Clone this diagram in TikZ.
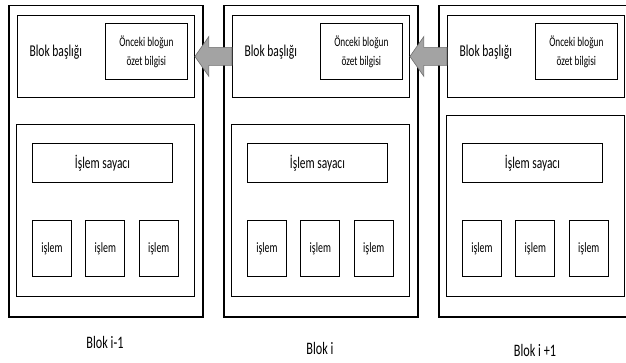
\documentclass[tikz,border=0pt]{standalone}
\usepackage{fontspec}
\setmainfont{Carlito}[FakeStretch=0.70]
\usetikzlibrary{positioning,calc}

\definecolor{arrowfill}{RGB}{163,163,163}
\definecolor{arrowedge}{RGB}{110,110,110}

\tikzset{
  outerbox/.style={draw, line width=1.5pt, inner sep=0pt, minimum width=194pt, minimum height=311pt},
  headbox/.style={draw, line width=0.9pt, inner sep=0pt, minimum width=177pt, minimum height=82pt},
  prevbox/.style={draw, line width=1.1pt, inner sep=0pt, minimum width=82pt, minimum height=56pt,
    align=center, font=\fontsize{13.3}{19}\selectfont},
  bodybox/.style={draw, line width=0.9pt, inner sep=0pt, minimum width=178pt},
  countbox/.style={draw, line width=0.9pt, inner sep=0pt, minimum width=140pt, minimum height=39pt,
    font=\fontsize{16.3}{18}\selectfont},
  txbox/.style={draw, line width=0.9pt, inner sep=0pt, minimum width=39pt, minimum height=56pt,
    font=\fontsize{14.2}{16}\selectfont},
  blockarrow/.style={fill=arrowfill, draw=arrowedge, line width=0.6pt, line join=miter}
}

\begin{document}
\begin{tikzpicture}[x=1pt,y=-1pt]
\useasboundingbox (0,0) rectangle (626,363);

% Draw the three blocks
\foreach \x/\bt/\lab/\ly/\n in {8/125/{Blok i-1}/342/1, 223/125/{Blok i}/348/2, 438/116/{Blok i +1}/350/3} {
  % outer frame
  \node[outerbox, anchor=north west] (o\n) at (\x,5) {};
  % block header with summary of previous block
  \node[headbox, anchor=north west] (h\n) at (\x+9,15) {};
  \node[anchor=west, font=\fontsize{16.5}{18}\selectfont] (ht\n) at ($(h\n.west)+(9,-4)$) {Blok başlığı};
  \node[prevbox, below left=8pt and 7pt of h\n.north east] (p\n) {Önceki bloğun\\özet bilgisi};
  % block body
  \node[bodybox, anchor=south west, minimum height={297pt-\bt pt}] (b\n) at (\x+8,297) {};
  \node[countbox, anchor=north west] (c\n) at (\x+24,143) {İşlem sayacı};
  \node[txbox, anchor=north west] (ta\n) at (\x+24,220) {işlem};
  \node[txbox, right=13.5pt of ta\n] (tb\n) {işlem};
  \node[txbox, right=13.5pt of tb\n] (tc\n) {işlem};
  % label under the block
  \node[font=\fontsize{17.5}{19}\selectfont] (l\n) at (\x+97,\ly) {\lab};
}

% Draw block arrows between headers
\draw[blockarrow] ($(h2.west)+(0,-9)$) -- ($(h1.east)+(14,-9)$) -- ($(h1.east)+(14,-20)$) -- (h1.east)
  -- ($(h1.east)+(14,20)$) -- ($(h1.east)+(14,9)$) -- ($(h2.west)+(0,9)$) -- cycle;
\draw[blockarrow] ($(h3.west)+(0,-9)$) -- ($(h2.east)+(14,-9)$) -- ($(h2.east)+(14,-20)$) -- (h2.east)
  -- ($(h2.east)+(14,20)$) -- ($(h2.east)+(14,9)$) -- ($(h3.west)+(0,9)$) -- cycle;
\end{tikzpicture}
\end{document}
